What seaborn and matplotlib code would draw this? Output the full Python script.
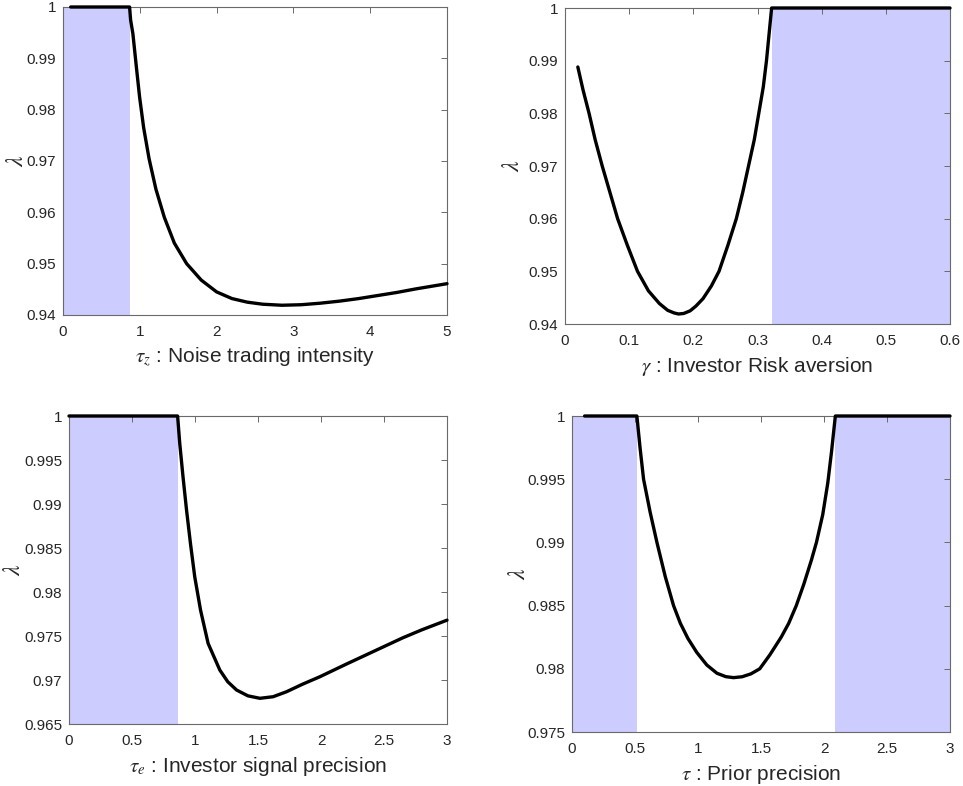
import numpy as np
import pandas as pd
import matplotlib
matplotlib.use("Agg")
import matplotlib.pyplot as plt
import seaborn as sns

sns.set_style("white")
plt.rcParams["font.family"] = ["Liberation Sans", "DejaVu Sans"]
plt.rcParams["mathtext.fontset"] = "stix"

# Panel 1: noise trading intensity
tz_x = [0.10, 0.867, 0.88, 0.91, 0.954, 0.997, 1.05, 1.12, 1.21, 1.32, 1.45, 1.61, 1.80, 2.00,
        2.20, 2.40, 2.60, 2.85, 3.10, 3.35, 3.60, 3.85, 4.10, 4.35, 4.60, 4.80, 5.00]
tz_y = [1.0, 1.0, 0.9975, 0.9948, 0.9885, 0.9825, 0.9765, 0.9705, 0.9645, 0.9590, 0.9540, 0.9500,
        0.9468, 0.9445, 0.9432, 0.9425, 0.9421, 0.9419, 0.9420, 0.9423, 0.9427, 0.9432, 0.9438,
        0.9444, 0.9451, 0.9456, 0.9461]
tz_shade = [(0.0, 0.867)]

# Panel 2: investor risk aversion
g_x = [0.020, 0.028, 0.0375, 0.047, 0.058, 0.070, 0.082, 0.097, 0.113, 0.130, 0.147, 0.160, 0.170,
       0.177, 0.185, 0.195, 0.204, 0.215, 0.228, 0.240, 0.254, 0.267, 0.277, 0.286, 0.295, 0.302,
       0.309, 0.314, 0.318, 0.322, 0.600]
g_y = [0.9888, 0.9845, 0.980, 0.975, 0.970, 0.965, 0.960, 0.955, 0.950, 0.9463, 0.9439, 0.9426,
       0.9421, 0.9419, 0.9420, 0.9425, 0.9434, 0.9448, 0.9472, 0.950, 0.955, 0.960, 0.965, 0.970,
       0.975, 0.980, 0.985, 0.990, 0.995, 1.0, 1.0]
g_shade = [(0.322, 0.6)]

# Panel 3: investor signal precision
te_x = [0.0, 0.862, 0.879, 0.905, 0.933, 0.964, 0.998, 1.044, 1.104, 1.197, 1.26, 1.33, 1.42,
        1.515, 1.62, 1.727, 1.85, 1.991, 2.20, 2.35, 2.50, 2.65, 2.80, 3.00]
te_y = [1.0, 1.0, 0.99687, 0.99307, 0.98929, 0.98551, 0.98172, 0.97794, 0.97416, 0.97113, 0.9698,
        0.96886, 0.9682, 0.96792, 0.9681, 0.96867, 0.9695, 0.97037, 0.9718, 0.9728, 0.9738,
        0.9748, 0.9757, 0.9768]
te_shade = [(0.0, 0.862)]

# Panel 4: prior precision
t_x = [0.10, 0.515, 0.54, 0.568, 0.62, 0.674, 0.74, 0.806, 0.86, 0.92, 0.99, 1.07, 1.15, 1.22,
       1.282, 1.35, 1.42, 1.49, 1.57, 1.66, 1.72, 1.78, 1.84, 1.90, 1.94, 1.99, 2.03, 2.06,
       2.09, 3.00]
t_y = [1.0, 1.0, 0.9975, 0.995, 0.9924, 0.990, 0.9873, 0.985, 0.9836, 0.9824, 0.9813, 0.9803,
       0.97965, 0.97938, 0.9793, 0.97937, 0.9796, 0.9800, 0.9811, 0.9825, 0.9836, 0.985,
       0.9867, 0.9886, 0.990, 0.9922, 0.9947, 0.9972, 1.0, 1.0]
t_shade = [(0.0, 0.515), (2.09, 3.0)]

panels = [
    dict(x=tz_x, y=tz_y, shade=tz_shade, xlim=(0, 5), ylim=(0.94, 1.0),
         xticks=[0, 1, 2, 3, 4, 5], yticks=[0.94, 0.95, 0.96, 0.97, 0.98, 0.99, 1.0],
         xlabel=r"$\tau_z$ : Noise trading intensity",
         pos=[63 / 963, 1 - 315 / 786, 384 / 963, 308 / 786], ylab_x=-0.091),
    dict(x=g_x, y=g_y, shade=g_shade, xlim=(0, 0.6), ylim=(0.94, 1.0),
         xticks=[0, 0.1, 0.2, 0.3, 0.4, 0.5, 0.6], yticks=[0.94, 0.95, 0.96, 0.97, 0.98, 0.99, 1.0],
         xlabel=r"$\gamma$ : Investor Risk aversion",
         pos=[565 / 963, 1 - 324 / 786, 385 / 963, 316 / 786], ylab_x=-0.107),
    dict(x=te_x, y=te_y, shade=te_shade, xlim=(0, 3), ylim=(0.965, 1.0),
         xticks=[0, 0.5, 1, 1.5, 2, 2.5, 3],
         yticks=[0.965, 0.97, 0.975, 0.98, 0.985, 0.99, 0.995, 1.0],
         xlabel=r"$\tau_e$ : Investor signal precision",
         pos=[69 / 963, 1 - 724 / 786, 378 / 963, 308 / 786], ylab_x=-0.116),
    dict(x=t_x, y=t_y, shade=t_shade, xlim=(0, 3), ylim=(0.975, 1.0),
         xticks=[0, 0.5, 1, 1.5, 2, 2.5, 3],
         yticks=[0.975, 0.98, 0.985, 0.99, 0.995, 1.0],
         xlabel=r"$\tau$ : Prior precision",
         pos=[572 / 963, 1 - 732 / 786, 378 / 963, 316 / 786], ylab_x=-0.112),
]

fig = plt.figure(figsize=(9.63, 7.86), dpi=100)
edge = "#6a6a6a"
for p in panels:
    ax = fig.add_axes(p["pos"])
    for a, b in p["shade"]:
        ax.axvspan(a, b, color="#ccccff", lw=0, zorder=0)
    df = pd.DataFrame({"x": p["x"], "y": p["y"]})
    sns.lineplot(data=df, x="x", y="y", ax=ax, color="black", lw=2.4, sort=False,
                 estimator=None, clip_on=False, zorder=3)
    ax.set_xlim(*p["xlim"])
    ax.set_ylim(*p["ylim"])
    ax.set_xticks(p["xticks"])
    ax.set_yticks(p["yticks"])
    ax.set_xticklabels([f"{v:g}" for v in p["xticks"]])
    ax.set_yticklabels([f"{v:g}" for v in p["yticks"]])
    ax.tick_params(direction="in", length=4, width=0.7, color=edge, labelsize=11,
                   labelcolor="#262626", top=True, right=True)
    ax.tick_params(axis="x", pad=7)
    ax.tick_params(axis="y", pad=5)
    for s in ax.spines.values():
        s.set_color(edge)
        s.set_linewidth(0.8)
        s.set_visible(True)
    ax.set_xlabel(p["xlabel"], fontsize=15, color="#262626", labelpad=5)
    ax.set_ylabel(r"$\lambda$", fontsize=17, color="#262626")
    ax.yaxis.set_label_coords(p["ylab_x"], 0.5)
    ax.set_facecolor("white")

fig.savefig("out.png", dpi=100)
